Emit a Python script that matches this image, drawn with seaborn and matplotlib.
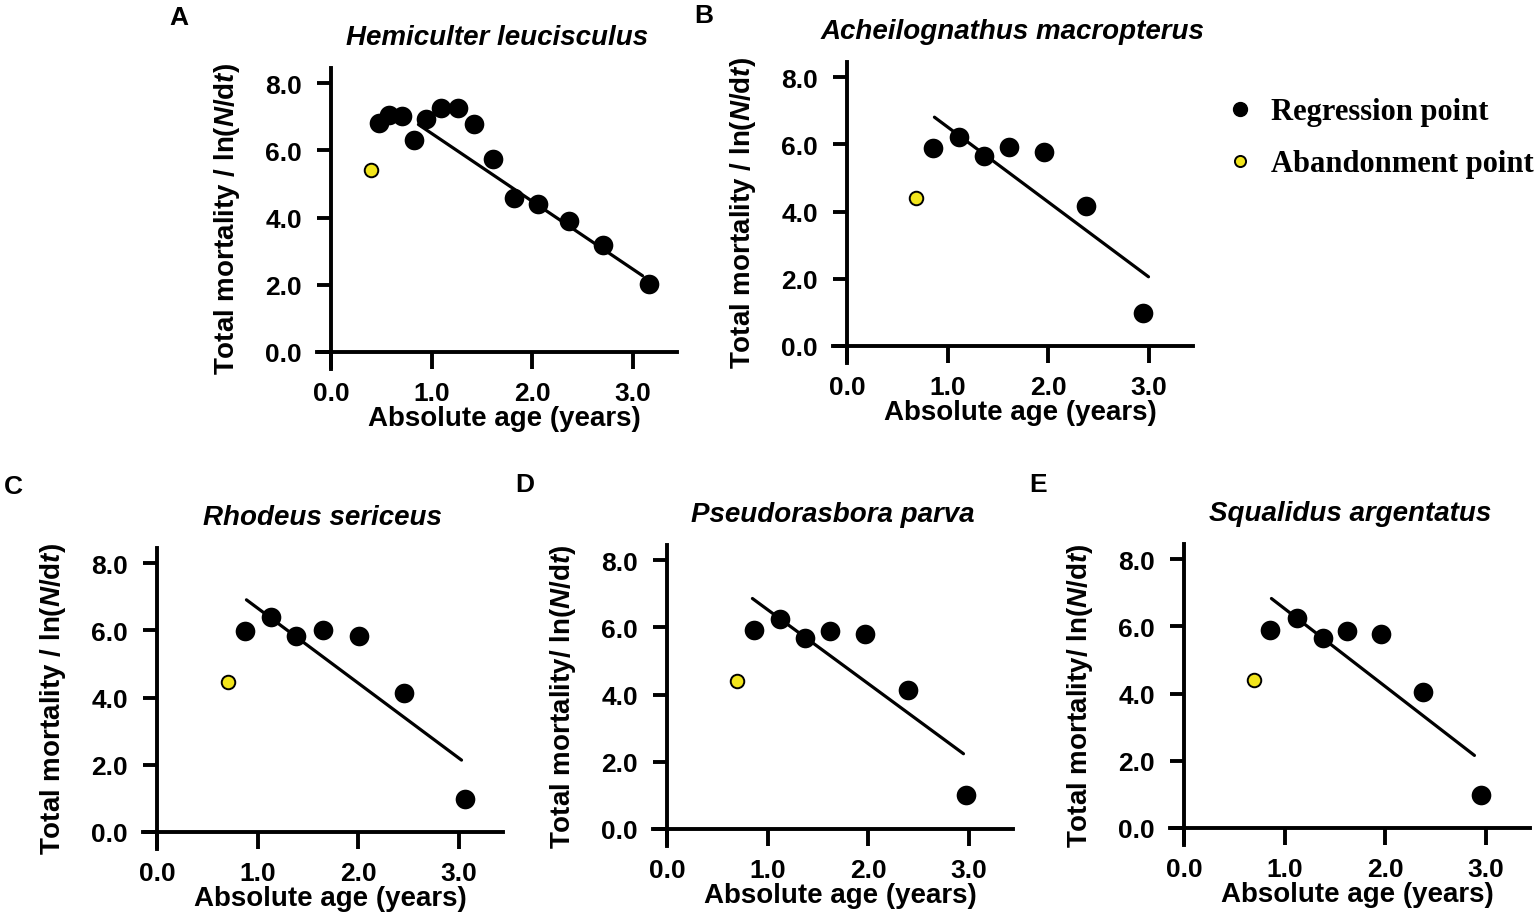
import matplotlib
matplotlib.use("Agg")
import matplotlib.pyplot as plt
from matplotlib.lines import Line2D
from matplotlib.ticker import FormatStrFormatter
import seaborn as sns

# A - Hemiculter leucisculus
a_reg_x = [0.48, 0.58, 0.71, 0.83, 0.95, 1.09, 1.26, 1.42, 1.61, 1.82, 2.06, 2.37, 2.71, 3.16]
a_reg_y = [6.83, 7.06, 7.01, 6.32, 6.94, 7.26, 7.26, 6.80, 5.75, 4.59, 4.40, 3.90, 3.18, 2.02]
a_ab_x = [0.40]
a_ab_y = [5.41]
a_fit_x = [0.87, 3.10]
a_fit_y = [6.77, 2.27]

# B - Acheilognathus macropterus
b_reg_x = [0.86, 1.11, 1.36, 1.61, 1.96, 2.38, 2.95]
b_reg_y = [5.88, 6.22, 5.65, 5.92, 5.77, 4.17, 0.99]
b_ab_x = [0.69]
b_ab_y = [4.40]
b_fit_x = [0.87, 3.00]
b_fit_y = [6.81, 2.06]

# C - Rhodeus sericeus
c_reg_x = [0.88, 1.13, 1.38, 1.65, 2.01, 2.46, 3.06]
c_reg_y = [5.99, 6.39, 5.82, 6.01, 5.84, 4.15, 0.99]
c_ab_x = [0.71]
c_ab_y = [4.47]
c_fit_x = [0.89, 3.03]
c_fit_y = [6.91, 2.14]

# D - Pseudorasbora parva
d_reg_x = [0.87, 1.12, 1.37, 1.62, 1.97, 2.40, 2.98]
d_reg_y = [5.91, 6.26, 5.67, 5.89, 5.81, 4.14, 1.00]
d_ab_x = [0.70]
d_ab_y = [4.41]
d_fit_x = [0.85, 2.95]
d_fit_y = [6.86, 2.24]

# E - Squalidus argentatus
e_reg_x = [0.86, 1.12, 1.38, 1.62, 1.96, 2.38, 2.96]
e_reg_y = [5.90, 6.26, 5.65, 5.87, 5.78, 4.05, 0.99]
e_ab_x = [0.695]
e_ab_y = [4.40]
e_fit_x = [0.87, 2.89]
e_fit_y = [6.83, 2.16]

titles = ["Hemiculter leucisculus", "Acheilognathus macropterus", "Rhodeus sericeus",
          "Pseudorasbora parva", "Squalidus argentatus"]
letters = ["A", "B", "C", "D", "E"]
ylab_wide = "Total mortality / ln($\\mathbfit{N}$/d$\\mathbfit{t}$)"
ylab_tight = "Total mortality/ ln($\\mathbfit{N}$/d$\\mathbfit{t}$)"
ylabels = [ylab_wide, ylab_wide, ylab_wide, ylab_tight, ylab_tight]
xticks = [0, 1, 2, 3]
yticks = [0, 2, 4, 6, 8]

sns.set_style("ticks", rc={"text.color": "black", "axes.labelcolor": "black",
                           "axes.edgecolor": "black", "xtick.color": "black",
                           "ytick.color": "black"})
plt.rcParams["font.family"] = ["Liberation Sans", "DejaVu Sans"]
plt.rcParams["font.weight"] = "bold"
plt.rcParams["mathtext.fontset"] = "custom"
plt.rcParams["mathtext.rm"] = "Liberation Sans:bold"
plt.rcParams["mathtext.bf"] = "Liberation Sans:bold"
plt.rcParams["mathtext.it"] = "Liberation Sans:italic:bold"
plt.rcParams["mathtext.bfit"] = "Liberation Sans:italic:bold"

YELLOW = "#f2e51c"
W, H = 1535, 920
fig = plt.figure(figsize=(W / 100, H / 100), dpi=100)

# pixel position of the (0,0) corner of each panel
origins = [(331, 353), (847, 347), (157, 833), (667, 830), (1184, 829)]
letter_pos = [(179, 18), (704, 16), (13, 487), (525, 485), (1038, 485)]
px_x, px_y = 100.5, 33.6
xlim, ylim = (-0.14, 3.44), (-0.5, 8.45)

panels = [
    (a_reg_x, a_reg_y, a_ab_x, a_ab_y, a_fit_x, a_fit_y),
    (b_reg_x, b_reg_y, b_ab_x, b_ab_y, b_fit_x, b_fit_y),
    (c_reg_x, c_reg_y, c_ab_x, c_ab_y, c_fit_x, c_fit_y),
    (d_reg_x, d_reg_y, d_ab_x, d_ab_y, d_fit_x, d_fit_y),
    (e_reg_x, e_reg_y, e_ab_x, e_ab_y, e_fit_x, e_fit_y),
]

for i, (rx, ry, abx, aby, fx, fy) in enumerate(panels):
    ox, oy = origins[i]
    left = ox + xlim[0] * px_x
    bottom = oy - ylim[0] * px_y
    w = (xlim[1] - xlim[0]) * px_x
    h = (ylim[1] - ylim[0]) * px_y
    ax = fig.add_axes([left / W, (H - bottom) / H, w / W, h / H])

    sns.lineplot(x=fx, y=fy, color="black", linewidth=2.3, ax=ax)
    sns.scatterplot(x=rx, y=ry, color="black", s=200, linewidth=0, ax=ax, zorder=3)
    sns.scatterplot(x=abx, y=aby, color=YELLOW, s=95, edgecolor="black", linewidth=1.4,
                    ax=ax, zorder=3)

    ax.set_xlim(*xlim)
    ax.set_ylim(*ylim)
    ax.spines[["top", "right"]].set_visible(False)
    for side in ["left", "bottom"]:
        ax.spines[side].set_position(("data", 0))
        ax.spines[side].set_linewidth(2.8)
    ax.set_xticks(xticks)
    ax.set_yticks(yticks)
    ax.xaxis.set_major_formatter(FormatStrFormatter("%.1f"))
    ax.yaxis.set_major_formatter(FormatStrFormatter("%.1f"))
    ax.tick_params(axis="x", length=12, width=2.8, pad=9, labelsize=19)
    ax.tick_params(axis="y", length=10, width=2.8, pad=11, labelsize=19)

    ax.set_xlabel("Absolute age (years)", fontsize=20, fontweight="bold")
    ax.xaxis.set_label_coords(0.52, -0.12)
    ax.set_ylabel(ylabels[i], fontsize=20, fontweight="bold")
    ax.yaxis.set_label_coords(-0.208, 0.5)
    ax.set_title(titles[i], fontsize=20, fontweight="bold", fontstyle="italic", pad=17)

    lx, ly = letter_pos[i]
    fig.text(lx / W, 1 - ly / H, letters[i], fontsize=19, fontweight="bold",
             ha="center", va="center")

handles = [
    Line2D([], [], marker="o", ls="", color="black", markersize=10),
    Line2D([], [], marker="o", ls="", markerfacecolor=YELLOW, markeredgecolor="black",
           markeredgewidth=1.4, markersize=8),
]
fig.legend(handles, ["Regression point", "Abandonment point"], loc="upper left",
           bbox_to_anchor=(1216 / W, 1 - 83 / H), frameon=False, borderpad=0,
           handlelength=0.6, handletextpad=0.7, labelspacing=0.75,
           prop={"family": "Liberation Serif", "weight": "bold", "size": 22})

fig.savefig("out.png", dpi=100)
